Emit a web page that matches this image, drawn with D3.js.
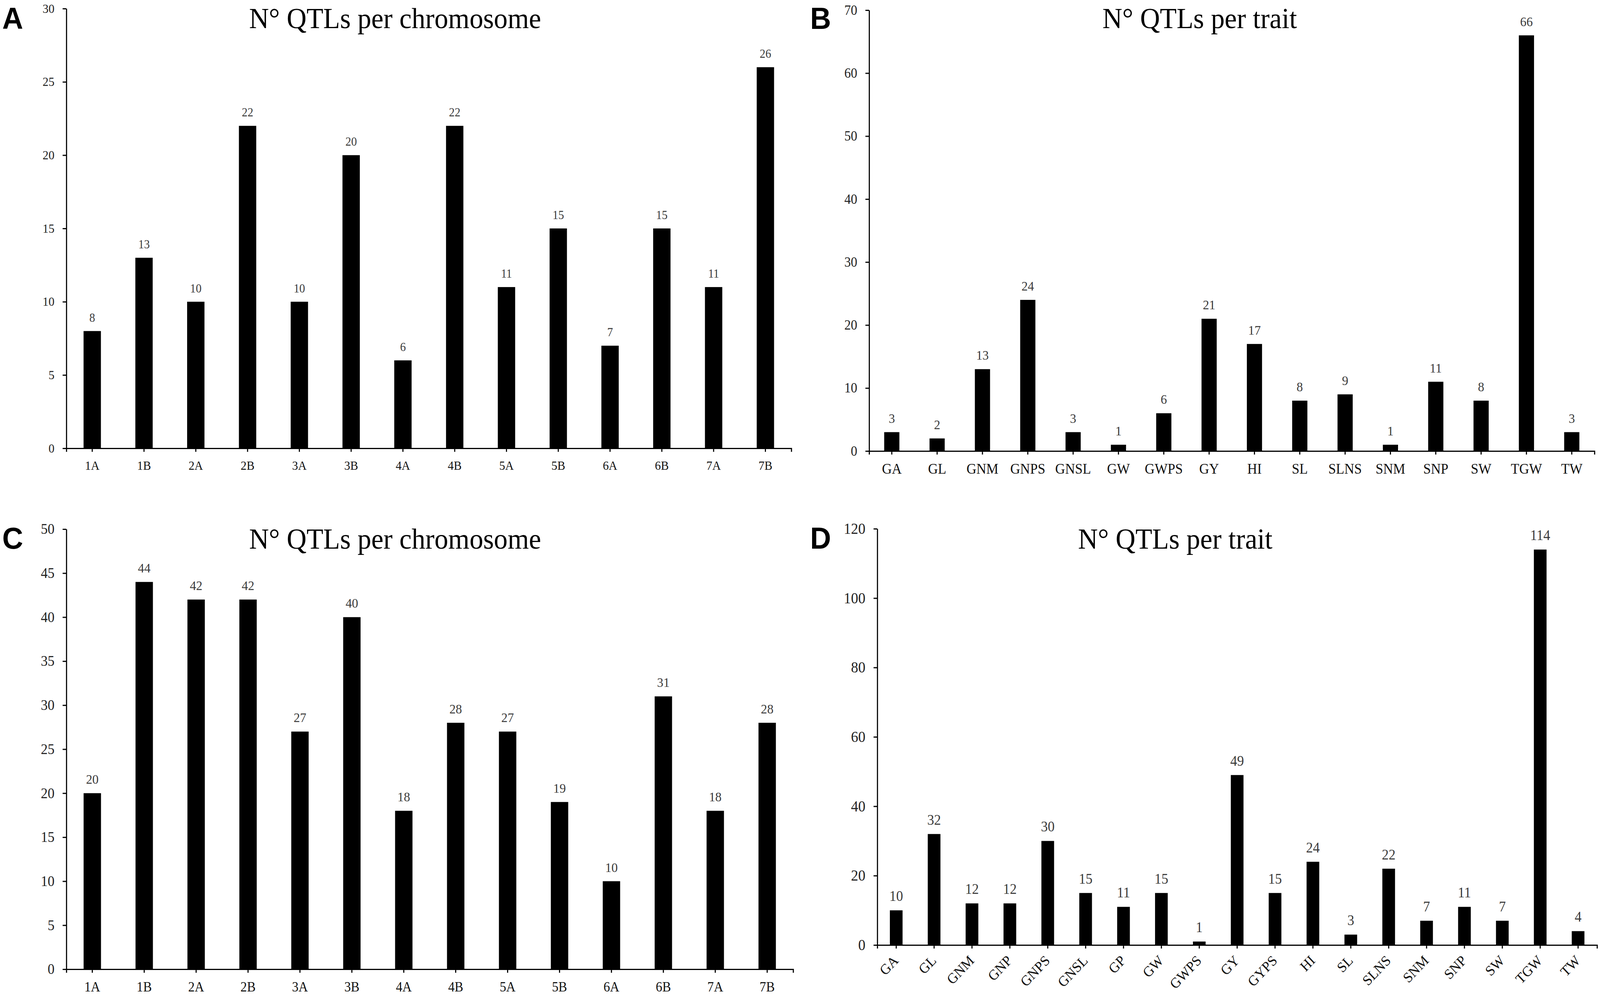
<!DOCTYPE html>
<html>
<head>
<meta charset="utf-8">
<script src="https://cdn.jsdelivr.net/npm/d3@7"></script>
<style>
  html, body { margin: 0; padding: 0; background: #fff; overflow: hidden; width: 100%; height: 100%; }
  svg { display: block; width: 100vw; height: 100vh; }
</style>
</head>
<body>
<svg id="chart" viewBox="0 0 4317 2548" preserveAspectRatio="none"></svg>
<script>
// ---------------- DATA ----------------
const chromosomes = ["1A","1B","2A","2B","3A","3B","4A","4B","5A","5B","6A","6B","7A","7B"];
const qtlPerChromosomeA = [8,13,10,22,10,20,6,22,11,15,7,15,11,26];
const qtlPerChromosomeC = [20,44,42,42,27,40,18,28,27,19,10,31,18,28];

const traitsB = ["GA","GL","GNM","GNPS","GNSL","GW","GWPS","GY","HI","SL","SLNS","SNM","SNP","SW","TGW","TW"];
const qtlPerTraitB = [3,2,13,24,3,1,6,21,17,8,9,1,11,8,66,3];

const traitsD = ["GA","GL","GNM","GNP","GNPS","GNSL","GP","GW","GWPS","GY","GYPS","HI","SL","SLNS","SNM","SNP","SW","TGW","TW"];
const qtlPerTraitD = [10,32,12,12,30,15,11,15,1,49,15,24,3,22,7,11,7,114,4];

const ticksA = [0,5,10,15,20,25,30];
const ticksB = [0,10,20,30,40,50,60,70];
const ticksC = [0,5,10,15,20,25,30,35,40,45,50];
const ticksD = [0,20,40,60,80,100,120];

const titleChromosome = "N° QTLs per chromosome";
const titleTrait = "N° QTLs per trait";
const panelLetters = ["A","B","C","D"];

// ---------------- LAYOUT ----------------
const SERIF = "'Liberation Serif','Times New Roman',Times,serif";
const SANS = "'Liberation Sans',Arial,Helvetica,sans-serif";

const panels = [
  { letter: panelLetters[0], cats: chromosomes, vals: qtlPerChromosomeA, ticks: ticksA,
    title: titleChromosome, x0: 179, x1: 2135, yTop: 22, yBottom: 1148,
    titleX: 1066, titleY: 72, letterX: 6, letterY: 74,
    tickFont: 32, labelFont: 32, valueFont: 31, rotate: false },
  { letter: panelLetters[1], cats: traitsB, vals: qtlPerTraitB, ticks: ticksB,
    title: titleTrait, x0: 2345, x1: 4302, yTop: 26, yBottom: 1155,
    titleX: 3237, titleY: 72, letterX: 2186, letterY: 74,
    tickFont: 35, labelFont: 37, valueFont: 34, rotate: false },
  { letter: panelLetters[2], cats: chromosomes, vals: qtlPerChromosomeC, ticks: ticksC,
    title: titleChromosome, x0: 179, x1: 2140, yTop: 1355, yBottom: 2482,
    titleX: 1066, titleY: 1405, letterX: 6, letterY: 1405,
    tickFont: 37, labelFont: 35, valueFont: 34, rotate: false },
  { letter: panelLetters[3], cats: traitsD, vals: qtlPerTraitD, ticks: ticksD,
    title: titleTrait, x0: 2367, x1: 4309, yTop: 1354, yBottom: 2420,
    titleX: 3171, titleY: 1405, letterX: 2186, letterY: 1405,
    tickFont: 39, labelFont: 37, valueFont: 37, rotate: true }
];

const svg = d3.select("#chart");
svg.append("rect").attr("width", 4317).attr("height", 2548).attr("fill", "#fff");

panels.forEach(p => {
  const g = svg.append("g");
  const domainMax = p.ticks[p.ticks.length - 1];

  const x = d3.scaleBand()
    .domain(p.cats)
    .range([p.x0, p.x1])
    .paddingInner(0.665)
    .paddingOuter(0.3325);

  const y = d3.scaleLinear()
    .domain([0, domainMax])
    .range([p.yBottom, p.yTop]);

  const rows = p.cats.map((c, i) => ({ c, v: p.vals[i] }));

  // bars
  g.append("g").selectAll("rect")
    .data(rows)
    .join("rect")
    .attr("x", d => x(d.c))
    .attr("width", x.bandwidth())
    .attr("y", d => y(d.v))
    .attr("height", d => y(0) - y(d.v))
    .attr("fill", "#000");

  // value labels
  g.append("g").selectAll("text")
    .data(rows)
    .join("text")
    .attr("x", d => x(d.c) + x.bandwidth() / 2)
    .attr("y", d => y(d.v) - 24)
    .attr("text-anchor", "middle")
    .attr("font-family", SERIF)
    .attr("font-size", p.valueFont)
    .attr("fill", "#3a3a3a")
    .text(d => d.v);

  // y axis
  const yAxis = g.append("g")
    .attr("transform", `translate(${p.x0},0)`)
    .call(d3.axisLeft(y).tickValues(p.ticks).tickSize(10).tickSizeOuter(0).tickPadding(22));
  yAxis.select(".domain").attr("stroke", "#000").attr("stroke-width", 3);
  yAxis.selectAll(".tick line").attr("stroke", "#000").attr("stroke-width", 3);
  yAxis.selectAll(".tick text")
    .attr("font-family", SERIF).attr("font-size", p.tickFont).attr("fill", "#222");

  // x axis
  const xAxis = g.append("g")
    .attr("transform", `translate(0,${p.yBottom})`)
    .call(d3.axisBottom(x).tickSize(9).tickSizeOuter(9).tickPadding(16));
  xAxis.select(".domain").attr("stroke", "#000").attr("stroke-width", 3);
  xAxis.selectAll(".tick line").attr("stroke", "#000").attr("stroke-width", 3);
  const xt = xAxis.selectAll(".tick text")
    .attr("font-family", SERIF).attr("font-size", p.labelFont).attr("fill", "#111");
  if (p.rotate) {
    xt.attr("text-anchor", "end")
      .attr("dy", null)
      .attr("y", 0)
      .attr("transform", "translate(8,42) rotate(-45)");
  } else {
    xt.attr("dy", "0.71em").attr("y", 32);
  }

  // title
  g.append("text")
    .attr("x", p.titleX).attr("y", p.titleY)
    .attr("text-anchor", "middle")
    .attr("font-family", SERIF)
    .attr("font-size", 74)
    .attr("fill", "#000")
    .text(p.title);

  // panel letter
  g.append("text")
    .attr("x", p.letterX).attr("y", p.letterY)
    .attr("font-family", SANS)
    .attr("font-weight", "bold")
    .attr("font-size", 78)
    .attr("fill", "#000")
    .text(p.letter);
});
</script>
</body>
</html>
